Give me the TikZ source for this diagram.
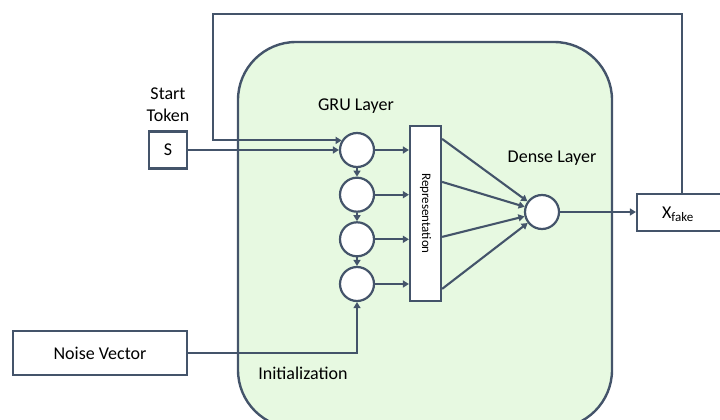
\documentclass[tikz,border=0pt]{standalone}
\usepackage{fontspec}
\setmainfont{Carlito}
\usetikzlibrary{arrows.meta,calc}
\definecolor{strk}{HTML}{44546A}
\definecolor{bgreen}{HTML}{E7F9E1}
\tikzset{
  conn/.style={draw=strk,line width=2.1pt},
  arr/.style={conn,-{Triangle[width=7pt,length=6pt]}},
  circ/.style={circle,draw=strk,line width=2.2pt,fill=white,minimum size=34pt,inner sep=0pt},
  boxn/.style={rectangle,draw=strk,line width=2.2pt,fill=white,inner sep=0pt},
  lbl/.style={font=\fontsize{18}{21}\selectfont,text=black,inner sep=0pt},
}
\begin{document}
\begin{tikzpicture}[x=1pt,y=-1pt]
\clip (0,0) rectangle (720,420);
\useasboundingbox (0,0) rectangle (720,420);
% big container
\draw[draw=strk,fill=bgreen,line width=2.4pt,rounded corners=58pt] (238,42) rectangle (612,428);
% labels
\node[lbl] (st) at (168,94) {Start};
\node[lbl] (tk) at (168,115) {Token};
\node[lbl] (gru) at (356,106) {GRU Layer};
\node[lbl] (dl) at (552,158) {Dense Layer};
\node[lbl] (ini) at (303,373) {Initialization};
% nodes
\node[boxn,minimum width=38pt,minimum height=37pt,lbl] (s) at (168,150) {S};
\node[boxn,minimum width=174pt,minimum height=44pt,lbl] (nv) at (100,353) {Noise Vector};
\node[boxn,minimum width=31pt,minimum height=175pt] (rep) at (425.5,213.5) {};
\node[rotate=-90,font=\fontsize{13}{14}\selectfont,inner sep=0pt] (reptxt) at (rep.center) {Representation};
\node[circ] (g1) at (357,150) {};
\node[circ] (g2) at (357,194.7) {};
\node[circ] (g3) at (357,239.3) {};
\node[circ] (g4) at (357,284) {};
\node[circ] (d) at (542,212) {};
\node[boxn,minimum width=85pt,minimum height=37pt] (xf) at (679.5,212.5) {};
\node[lbl,anchor=center] (xft) at (678,214) {X\textsubscript{\fontsize{13}{14}\selectfont fake}};
% feedback
\coordinate (fbTop) at (682,14);
\coordinate (fbLeft) at (213,14);
\draw[arr] (xf.north -| fbTop) -- (fbTop) -- (fbLeft) |- (g1.148);
% start token
\draw[arr] (s.east) -- (g1.west);
% chain
\draw[arr] (g1.south) -- (g2.north);
\draw[arr] (g2.south) -- (g3.north);
\draw[arr] (g3.south) -- (g4.north);
% to representation
\foreach \g in {g1,g2,g3,g4}{\draw[arr] (\g.east) -- (\g.east -| rep.west);}
% representation to dense
\draw[arr] ($(rep.north east)+(0,14)$) -- (d);
\draw[arr] ($(rep.north east)+(0,57)$) -- (d);
\draw[arr] ($(rep.north east)+(0,112)$) -- (d);
\draw[arr] ($(rep.north east)+(0,164)$) -- (d);
% dense to output
\draw[arr] (d.east) -- (xf.west |- d.east);
% noise
\draw[arr] (nv.east) -| (g4.south);
\end{tikzpicture}
\end{document}
